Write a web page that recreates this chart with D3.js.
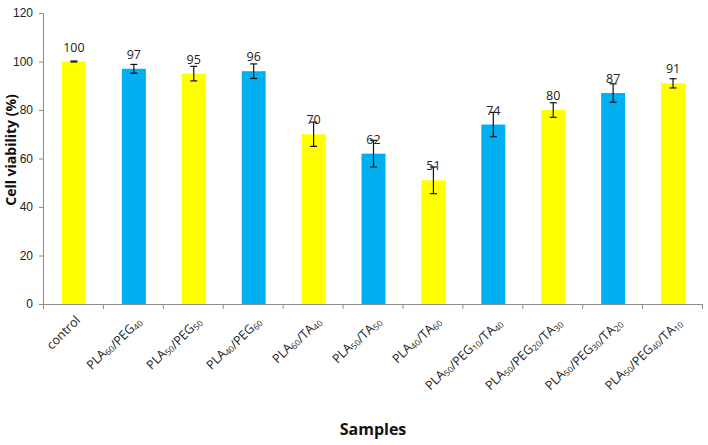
<!DOCTYPE html>
<html>
<head>
<meta charset="utf-8">
<script src="https://cdn.jsdelivr.net/npm/d3@7"></script>
<style>
  body { margin: 0; background: #fff; }
  svg { font-family: "Open Sans", sans-serif; }
  .axis path, .axis line { stroke: #8c8c8c; }
  .axis text { fill: #222; font-size: 12px; }
</style>
</head>
<body>
<svg id="viability" width="708" height="445"></svg>
<script>
// data
const samples = ["control", "PLA_60/PEG_40", "PLA_50/PEG_50", "PLA_40/PEG_60",
    "PLA_60/TA_40", "PLA_50/TA_50", "PLA_40/TA_60", "PLA_50/PEG_10/TA_40",
    "PLA_50/PEG_20/TA_30", "PLA_50/PEG_30/TA_20", "PLA_50/PEG_40/TA_10"];
const viability = [100, 97, 95, 96, 70, 62, 51, 74, 80, 87, 91];
const errors = [0.2, 1.8, 3, 3, 5, 5.5, 5.5, 5, 3, 3.8, 1.9];
const yTicks = [0, 20, 40, 60, 80, 100, 120];

const svg = d3.select("svg#viability");
const margin = { top: 13, right: 6, bottom: 141, left: 43 };
const width = +svg.attr("width");
const height = +svg.attr("height");
const chartWidth = width - margin.left - margin.right;
const chartHeight = height - margin.top - margin.bottom;
const colors = ["#ffff00", "#00b0f0"];

const chart = svg.append("g").attr("transform", `translate(${margin.left},${margin.top})`);

const y = d3.scaleLinear().domain([0, 120]).range([chartHeight, 0]);
const slot = d3.scaleBand().domain(samples).range([0, chartWidth]).padding(0);
const barW = slot.bandwidth() * 0.4;

// y axis
chart.append("g").attr("class", "y axis")
    .call(d3.axisLeft(y).tickValues(yTicks).tickSize(4).tickSizeOuter(0).tickPadding(6))
    .selectAll("text").attr("font-size", 12.5);

// x axis with ticks on the category boundaries
const edges = d3.scaleLinear().domain([0, samples.length]).range([0, chartWidth]);
chart.append("g").attr("class", "x axis")
    .attr("transform", `translate(0,${chartHeight})`)
    .call(d3.axisBottom(edges).tickValues(d3.range(samples.length + 1)).tickSize(5).tickSizeOuter(0).tickFormat(""));

// bars
chart.selectAll("rect.bar").data(samples)
    .join("rect").attr("class", "bar")
    .attr("x", d => slot(d) + (slot.bandwidth() - barW) / 2 + 1)
    .attr("y", (d, i) => y(viability[i]))
    .attr("width", barW)
    .attr("height", (d, i) => y(0) - y(viability[i]))
    .attr("fill", (d, i) => colors[i % 2]);

// error bars
const err = chart.selectAll("g.err").data(samples)
    .join("g").attr("class", "err")
    .attr("transform", d => `translate(${slot(d) + slot.bandwidth() / 2 + 1},0)`)
    .attr("stroke", "#111").attr("stroke-width", 1.2);
err.append("line")
    .attr("y1", (d, i) => y(viability[i] + errors[i]))
    .attr("y2", (d, i) => y(viability[i] - errors[i]));
err.append("line").attr("x1", -3.5).attr("x2", 3.5)
    .attr("y1", (d, i) => y(viability[i] + errors[i]))
    .attr("y2", (d, i) => y(viability[i] + errors[i]));
err.append("line").attr("x1", -3.5).attr("x2", 3.5)
    .attr("y1", (d, i) => y(viability[i] - errors[i]))
    .attr("y2", (d, i) => y(viability[i] - errors[i]));

// value labels
chart.selectAll("text.val").data(samples)
    .join("text").attr("class", "val")
    .attr("x", d => slot(d) + slot.bandwidth() / 2 + 1)
    .attr("y", (d, i) => y(viability[i]) - 10)
    .attr("text-anchor", "middle")
    .attr("font-size", 12.5).attr("fill", "#222")
    .text((d, i) => viability[i]);

// rotated sample names with subscripts
const names = chart.selectAll("text.name").data(samples)
    .join("text").attr("class", "name")
    .attr("transform", d => `translate(${slot(d) + slot.bandwidth() / 2 + 8},${chartHeight + 17}) rotate(-45)`)
    .attr("text-anchor", "end")
    .attr("font-size", 12.5).attr("fill", "#222");
names.each(function (d) {
    const t = d3.select(this);
    d.split(/(_\d+)/).filter(s => s.length).forEach(part => {
        if (part.startsWith("_")) {
            t.append("tspan").attr("font-size", 8.5).attr("dy", 2).text(part.slice(1));
            t.append("tspan").attr("dy", -2).text("");
        } else {
            t.append("tspan").text(part);
        }
    });
});

// axis titles
svg.append("text")
    .attr("transform", `translate(16,150) rotate(-90)`)
    .attr("text-anchor", "middle")
    .attr("font-size", 14).attr("font-weight", "bold").attr("fill", "#111")
    .text("Cell viability (%)");
svg.append("text")
    .attr("x", 373).attr("y", 435)
    .attr("text-anchor", "middle")
    .attr("font-size", 16).attr("font-weight", "bold").attr("fill", "#111")
    .text("Samples");
</script>
</body>
</html>
